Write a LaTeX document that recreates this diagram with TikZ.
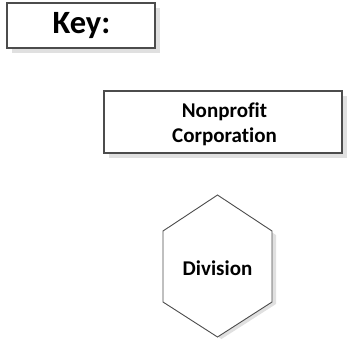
\documentclass[tikz,border=0pt]{standalone}
\usepackage{fontspec}
\setmainfont{Carlito}[Ligatures=CommonOff]
\begin{document}
\begin{tikzpicture}[x=1pt,y=-1pt,
  boxline/.style={draw=black!70,line width=1.2pt,fill=white},
  shade/.style={fill=black!12,draw=none},
  lbl/.style={font=\bfseries,text=black,align=center}]
\useasboundingbox (0,0) rectangle (347,340);
% Key box
\fill[shade] (12,8) rectangle (160,53);
\draw[boxline] (7,3) rectangle (155,48);
\node[lbl,font=\fontsize{32.5}{36}\selectfont\bfseries] (key) at (81.5,25.5) {Key:};
% Nonprofit box
\fill[shade] (109,96) rectangle (347,158);
\draw[boxline] (104,91) rectangle (342,153);
\node[lbl,font=\fontsize{21}{25}\selectfont\bfseries] (npc) at (224.5,124) {Nonprofit\\Corporation};
% Division hexagon
\fill[shade] (221.5,200) -- (276,235) -- (276,304) -- (221.5,339) -- (167,304) -- (167,235) -- cycle;
\draw[boxline,line width=0.9pt] (217.5,195) -- (272,231) -- (272,302) -- (217.5,337) -- (163,302) -- (163,231) -- cycle;
\node[lbl,font=\fontsize{21}{25}\selectfont\bfseries] (div) at (217.5,268) {Division};
\end{tikzpicture}
\end{document}
